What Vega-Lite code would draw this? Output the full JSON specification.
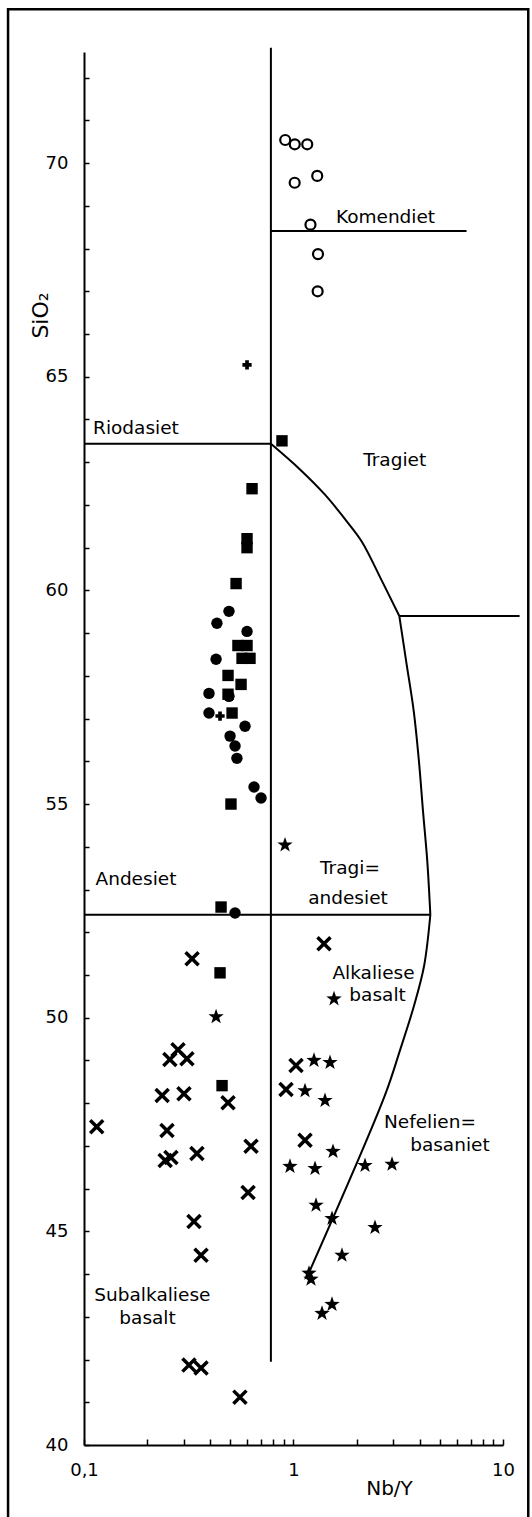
{
  "$schema": "https://vega.github.io/schema/vega-lite/v6.json",
  "width": 419,
  "height": 1393,
  "autosize": {"type": "none"},
  "padding": {"left": 84, "top": 52, "right": 29, "bottom": 72},
  "background": "white",
  "config": {
    "view": {"stroke": null},
    "font": "DejaVu Sans",
    "text": {"font": "DejaVu Sans"}
  },
  "datasets": {
    "frame": [{"nby": 0.0434, "nby2": 13.2, "sio2": 38, "sio22": 73.6}],
    "lines": [
      {"seg": "v", "i": 1, "nby": 0.78, "sio2": 72.7},
      {"seg": "v", "i": 2, "nby": 0.78, "sio2": 41.95},
      {"seg": "kom", "i": 1, "nby": 0.78, "sio2": 68.41},
      {"seg": "kom", "i": 2, "nby": 6.7, "sio2": 68.41},
      {"seg": "rio", "i": 1, "nby": 0.1, "sio2": 63.43},
      {"seg": "rio", "i": 2, "nby": 0.78, "sio2": 63.43},
      {"seg": "tr", "i": 1, "nby": 0.78, "sio2": 63.43},
      {"seg": "tr", "i": 2, "nby": 1.074, "sio2": 62.83},
      {"seg": "tr", "i": 3, "nby": 1.413, "sio2": 62.24},
      {"seg": "tr", "i": 4, "nby": 1.8, "sio2": 61.61},
      {"seg": "tr", "i": 5, "nby": 2.12, "sio2": 61.14},
      {"seg": "tr", "i": 6, "nby": 2.65, "sio2": 60.21},
      {"seg": "tr", "i": 7, "nby": 3.2, "sio2": 59.4},
      {"seg": "h", "i": 1, "nby": 3.2, "sio2": 59.4},
      {"seg": "h", "i": 2, "nby": 12, "sio2": 59.4},
      {"seg": "r", "i": 1, "nby": 3.2, "sio2": 59.4},
      {"seg": "r", "i": 2, "nby": 3.45, "sio2": 58.34},
      {"seg": "r", "i": 3, "nby": 3.75, "sio2": 57.17},
      {"seg": "r", "i": 4, "nby": 3.97, "sio2": 56.0},
      {"seg": "r", "i": 5, "nby": 4.15, "sio2": 54.84},
      {"seg": "r", "i": 6, "nby": 4.35, "sio2": 53.67},
      {"seg": "r", "i": 7, "nby": 4.5, "sio2": 52.41},
      {"seg": "and", "i": 1, "nby": 0.1, "sio2": 52.41},
      {"seg": "and", "i": 2, "nby": 4.5, "sio2": 52.41},
      {"seg": "low", "i": 1, "nby": 4.5, "sio2": 52.41},
      {"seg": "low", "i": 2, "nby": 4.2, "sio2": 51.21},
      {"seg": "low", "i": 3, "nby": 3.76, "sio2": 50.28},
      {"seg": "low", "i": 4, "nby": 3.22, "sio2": 49.23},
      {"seg": "low", "i": 5, "nby": 2.73, "sio2": 48.18},
      {"seg": "low", "i": 6, "nby": 1.17, "sio2": 43.97}
    ],
    "opencircles": [
      {"nby": 0.913, "sio2": 70.54},
      {"nby": 1.014, "sio2": 70.44},
      {"nby": 1.163, "sio2": 70.44},
      {"nby": 1.298, "sio2": 69.7},
      {"nby": 1.013, "sio2": 69.54},
      {"nby": 1.205, "sio2": 68.56},
      {"nby": 1.309, "sio2": 67.87},
      {"nby": 1.304, "sio2": 67.0}
    ],
    "plus": [
      {"nby": 0.6, "sio2": 65.28},
      {"nby": 0.446, "sio2": 57.06}
    ],
    "squares": [
      {"nby": 0.881, "sio2": 63.5},
      {"nby": 0.634, "sio2": 62.38},
      {"nby": 0.6, "sio2": 61.21},
      {"nby": 0.6, "sio2": 61.0},
      {"nby": 0.532, "sio2": 60.16},
      {"nby": 0.543, "sio2": 58.71},
      {"nby": 0.6, "sio2": 58.71},
      {"nby": 0.568, "sio2": 58.41},
      {"nby": 0.62, "sio2": 58.41},
      {"nby": 0.487, "sio2": 58.01},
      {"nby": 0.562, "sio2": 57.8},
      {"nby": 0.487, "sio2": 57.57},
      {"nby": 0.509, "sio2": 57.13},
      {"nby": 0.503, "sio2": 55.0},
      {"nby": 0.451, "sio2": 52.59},
      {"nby": 0.446, "sio2": 51.05},
      {"nby": 0.456, "sio2": 48.41}
    ],
    "dots": [
      {"nby": 0.492, "sio2": 59.51},
      {"nby": 0.431, "sio2": 59.23},
      {"nby": 0.6, "sio2": 59.04},
      {"nby": 0.427, "sio2": 58.39},
      {"nby": 0.395, "sio2": 57.59},
      {"nby": 0.492, "sio2": 57.52},
      {"nby": 0.395, "sio2": 57.13},
      {"nby": 0.587, "sio2": 56.82},
      {"nby": 0.498, "sio2": 56.59},
      {"nby": 0.526, "sio2": 56.36},
      {"nby": 0.537, "sio2": 56.07},
      {"nby": 0.648, "sio2": 55.4},
      {"nby": 0.7, "sio2": 55.14},
      {"nby": 0.526, "sio2": 52.45}
    ],
    "crosses": [
      {"nby": 0.328, "sio2": 51.38},
      {"nby": 0.281, "sio2": 49.25},
      {"nby": 0.257, "sio2": 49.02},
      {"nby": 0.31, "sio2": 49.04},
      {"nby": 0.236, "sio2": 48.18},
      {"nby": 0.3, "sio2": 48.22},
      {"nby": 0.487, "sio2": 48.01},
      {"nby": 0.115, "sio2": 47.45},
      {"nby": 0.249, "sio2": 47.36},
      {"nby": 0.244, "sio2": 46.66},
      {"nby": 0.26, "sio2": 46.73},
      {"nby": 0.346, "sio2": 46.82},
      {"nby": 0.627, "sio2": 46.99},
      {"nby": 0.607, "sio2": 45.91},
      {"nby": 0.335, "sio2": 45.23},
      {"nby": 0.362, "sio2": 44.44},
      {"nby": 0.317, "sio2": 41.87},
      {"nby": 0.362, "sio2": 41.8},
      {"nby": 0.555, "sio2": 41.12},
      {"nby": 1.398, "sio2": 51.73},
      {"nby": 1.028, "sio2": 48.88},
      {"nby": 0.921, "sio2": 48.32},
      {"nby": 1.135, "sio2": 47.13}
    ],
    "stars": [
      {"nby": 0.911, "sio2": 54.04},
      {"nby": 1.561, "sio2": 50.44},
      {"nby": 1.253, "sio2": 49.0},
      {"nby": 1.494, "sio2": 48.95},
      {"nby": 1.135, "sio2": 48.29},
      {"nby": 1.414, "sio2": 48.06},
      {"nby": 1.544, "sio2": 46.87},
      {"nby": 0.962, "sio2": 46.52},
      {"nby": 1.267, "sio2": 46.47},
      {"nby": 2.195, "sio2": 46.54},
      {"nby": 2.953, "sio2": 46.57},
      {"nby": 1.281, "sio2": 45.61},
      {"nby": 1.527, "sio2": 45.3},
      {"nby": 2.449, "sio2": 45.09},
      {"nby": 1.704, "sio2": 44.44},
      {"nby": 1.186, "sio2": 44.02},
      {"nby": 1.212, "sio2": 43.88},
      {"nby": 1.368, "sio2": 43.08},
      {"nby": 1.527, "sio2": 43.29},
      {"nby": 0.427, "sio2": 50.02}
    ],
    "labels": [
      {"t": "Komendiet", "nby": 2.75, "sio2": 68.74},
      {"t": "Riodasiet", "nby": 0.177, "sio2": 63.79},
      {"t": "Tragiet", "nby": 3.04, "sio2": 63.06},
      {"t": "Andesiet", "nby": 0.177, "sio2": 53.25},
      {"t": "Tragi=", "nby": 1.86, "sio2": 53.5},
      {"t": "andesiet", "nby": 1.82, "sio2": 52.8},
      {"t": "Alkaliese", "nby": 2.41, "sio2": 51.05},
      {"t": "basalt", "nby": 2.52, "sio2": 50.54},
      {"t": "Nefelien=", "nby": 4.48, "sio2": 47.57},
      {"t": "basaniet", "nby": 5.58, "sio2": 47.01},
      {"t": "Subalkaliese", "nby": 0.212, "sio2": 43.5},
      {"t": "basalt", "nby": 0.201, "sio2": 42.97}
    ]
  },
  "encoding": {
    "x": {
      "field": "nby",
      "type": "quantitative",
      "scale": {"type": "log", "domain": [0.1, 10], "nice": false},
      "axis": {
        "values": [0.1, 0.2, 0.3, 0.4, 0.5, 0.6, 0.7, 0.8, 0.9, 1, 2, 3, 4, 5, 6, 7, 8, 9, 10],
        "labelExpr": "abs(datum.value-0.1)<1e-9 ? '0,1' : (abs(datum.value-1)<1e-9 ? '1' : (abs(datum.value-10)<1e-9 ? '10' : ''))",
        "grid": false,
        "tickSize": -6,
        "tickWidth": 1.5,
        "tickColor": "black",
        "domainColor": "black",
        "domainWidth": 2,
        "labelFont": "DejaVu Sans",
        "labelFontSize": 18,
        "labelColor": "black",
        "labelPadding": 22,
        "labelFlush": false,
        "labelOverlap": false,
        "title": "Nb/Y",
        "titleFont": "DejaVu Sans",
        "titleFontSize": 20,
        "titleFontWeight": "normal",
        "titleColor": "black",
        "titleX": 305,
        "titleY": 43,
        "titleAlign": "center",
        "titleBaseline": "middle"
      }
    },
    "y": {
      "field": "sio2",
      "type": "quantitative",
      "scale": {"domain": [40, 72.6], "nice": false, "zero": false},
      "axis": {
        "values": [40, 41, 42, 43, 44, 45, 46, 47, 48, 49, 50, 51, 52, 53, 54, 55, 56, 57, 58, 59, 60, 61, 62, 63, 64, 65, 66, 67, 68, 69, 70, 71, 72],
        "labelExpr": "datum.value % 5 === 0 ? datum.label : ''",
        "grid": false,
        "tickSize": -5,
        "tickWidth": 1.5,
        "tickColor": "black",
        "domainColor": "black",
        "domainWidth": 2,
        "labelFont": "DejaVu Sans",
        "labelFontSize": 18,
        "labelColor": "black",
        "labelPadding": 21,
        "labelFlush": false,
        "labelOverlap": false,
        "title": "SiO₂",
        "titleFont": "DejaVu Sans",
        "titleFontSize": 22,
        "titleFontWeight": "normal",
        "titleColor": "black",
        "titleX": -44,
        "titleY": 263,
        "titleAngle": 270,
        "titleAlign": "center",
        "titleBaseline": "middle"
      }
    }
  },
  "layer": [
    {
      "data": {"name": "frame"},
      "mark": {"type": "rect", "fill": null, "fillOpacity": 0, "stroke": "black", "strokeWidth": 2.5},
      "encoding": {
        "x2": {"field": "nby2"},
        "y2": {"field": "sio22"}
      }
    },
    {
      "data": {"name": "lines"},
      "mark": {"type": "line", "color": "black", "strokeWidth": 2, "interpolate": "catmull-rom"},
      "encoding": {
        "detail": {"field": "seg", "type": "nominal"},
        "order": {"field": "i", "type": "quantitative"}
      }
    },
    {
      "data": {"name": "opencircles"},
      "mark": {"type": "point", "shape": "circle", "filled": false, "stroke": "black", "strokeWidth": 2.2, "size": 100, "opacity": 1}
    },
    {
      "data": {"name": "plus"},
      "mark": {"type": "point", "shape": "cross", "filled": true, "fill": "black", "size": 85, "opacity": 1}
    },
    {
      "data": {"name": "squares"},
      "mark": {"type": "square", "fill": "black", "size": 130, "opacity": 1}
    },
    {
      "data": {"name": "dots"},
      "mark": {"type": "circle", "fill": "black", "size": 130, "opacity": 1}
    },
    {
      "data": {"name": "crosses"},
      "mark": {"type": "point", "shape": "M-1,-1L1,1M-1,1L1,-1", "filled": false, "stroke": "black", "strokeWidth": 3.5, "size": 170, "opacity": 1}
    },
    {
      "data": {"name": "stars"},
      "mark": {"type": "point", "shape": "M0,-1L0.235,-0.324L0.951,-0.309L0.38,0.124L0.588,0.809L0,0.4L-0.588,0.809L-0.38,0.124L-0.951,-0.309L-0.235,-0.324Z", "filled": true, "fill": "black", "size": 260, "opacity": 1}
    },
    {
      "data": {"name": "labels"},
      "mark": {"type": "text", "align": "center", "baseline": "middle", "font": "DejaVu Sans", "fontSize": 18.5, "color": "black"},
      "encoding": {"text": {"field": "t", "type": "nominal"}}
    }
  ]
}
